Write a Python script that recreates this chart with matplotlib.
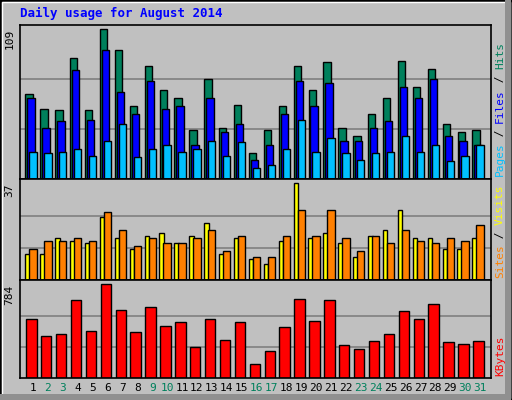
import matplotlib.pyplot as plt
from matplotlib.patches import Rectangle

days = list(range(1, 32))
hits = [62, 51, 50, 88, 50, 109, 94, 53, 82, 65, 59, 36, 73, 37, 54, 19, 36, 53, 82, 65, 85, 37, 31, 47, 59, 86, 67, 80, 40, 34, 36]
files = [59, 37, 42, 79, 43, 94, 63, 47, 71, 51, 53, 25, 59, 34, 40, 14, 25, 47, 71, 53, 70, 28, 28, 37, 42, 67, 59, 73, 31, 28, 25]
pages = [20, 19, 20, 22, 17, 28, 40, 16, 22, 25, 20, 22, 28, 17, 27, 8, 10, 22, 43, 20, 30, 19, 14, 19, 20, 31, 20, 25, 13, 17, 25]
visits = [10, 10, 16, 15, 14, 24, 16, 12, 17, 18, 14, 17, 22, 10, 16, 8, 6, 15, 37, 16, 18, 14, 9, 17, 19, 27, 16, 16, 12, 12, 16]
sites = [12, 15, 15, 16, 15, 26, 19, 13, 16, 14, 14, 16, 19, 11, 17, 9, 9, 17, 27, 17, 27, 16, 11, 17, 14, 19, 15, 14, 16, 15, 21]
kbytes = [491, 353, 370, 655, 396, 784, 569, 388, 595, 439, 465, 258, 491, 319, 465, 121, 224, 431, 663, 474, 655, 276, 241, 310, 370, 560, 491, 620, 302, 284, 310]
weekend = [2, 3, 9, 10, 16, 17, 23, 24, 30, 31]

W, H = 512, 400
fig = plt.figure(figsize=(5.12, 4.0), dpi=100)
fig.patch.set_facecolor('#C0C0C0')
mono = 'DejaVu Sans Mono'

# outer frame
fig.patches.append(Rectangle((0, 0), 1, 1, transform=fig.transFigure, fill=False, ec='black', lw=2))
fig.patches.append(Rectangle((2/W, 2/H), 1-4/W, 1-4/H, transform=fig.transFigure, fill=False, ec='white', lw=1))
fig.patches.append(Rectangle((0, 0), 1-1/W, 6/H, transform=fig.transFigure, color='#909090', lw=0))
fig.patches.append(Rectangle((1-7/W, 0), 6/W, 1, transform=fig.transFigure, color='#909090', lw=0))

fig.text(20/W, 1-13/H, 'Daily usage for August 2014', color='#0000FF', fontsize=9,
         fontweight='bold', family=mono, va='center')

x0, x1 = 0.127, 31.74

def panel(top, bottom, ymax, vmax):
    ax = fig.add_axes([20/W, 1-bottom/H, 471/W, (bottom-top)/H])
    ax.set_facecolor('#C0C0C0')
    ax.set_xlim(x0, x1)
    ax.set_ylim(0, ymax)
    for g in (vmax/3, 2*vmax/3):
        ax.axhline(g, color='#808080', lw=1.2, zorder=0)
    ax.set_xticks([])
    ax.set_yticks([])
    for s in ax.spines.values():
        s.set_color('black')
        s.set_linewidth(1.2)
    ax.text(-0.012, vmax, str(vmax), transform=ax.get_yaxis_transform(), rotation=90,
            ha='right', va='top', fontsize=8, family=mono)
    return ax

ax1 = panel(25, 179, 112, 109)
kw = dict(edgecolor='black', linewidth=1)
ax1.bar([d-0.26 for d in days], hits, width=0.49, color='#00805C', **kw)
ax1.bar([d-0.13 for d in days], files, width=0.49, color='#0000FF', **kw)
ax1.bar(days, pages, width=0.49, color='#00C0FF', **kw)

ax2 = panel(179, 280, 38.7, 37)
ax2.bar([d-0.36 for d in days], visits, width=0.3, color='#FFFF00', **kw)
ax2.bar(days, sites, width=0.49, color='#FF8000', **kw)

ax3 = panel(280, 378, 821, 784)
ax3.bar([d-0.11 for d in days], kbytes, width=0.7, color='#FF0000', **kw)

# day labels
for d in days:
    c = '#00805C' if d in weekend else 'black'
    ax3.text(d, -0.1, str(d), transform=ax3.get_xaxis_transform(), ha='center', va='center',
             fontsize=8, color=c, family=mono)

# right-side legends
def side(ax, parts):
    y = 0.02
    for txt, col in parts:
        t = ax.text(1.008, y, txt, transform=ax.transAxes, rotation=90, ha='left', va='bottom',
                    fontsize=8, color=col, family=mono)
        y += len(txt) * 0.6 * 8 / 72 * 100 / ax.get_window_extent().height * 1.0
    return

side(ax1, [('Pages', '#00C0FF'), (' / ', 'black'), ('Files', '#0000FF'), (' / ', 'black'), ('Hits', '#00805C')])
side(ax2, [('Sites', '#FF8000'), (' / ', 'black'), ('Visits', '#FFFF00')])
side(ax3, [('KBytes', '#FF0000')])

fig.savefig('out.png', dpi=100, facecolor=fig.get_facecolor())
